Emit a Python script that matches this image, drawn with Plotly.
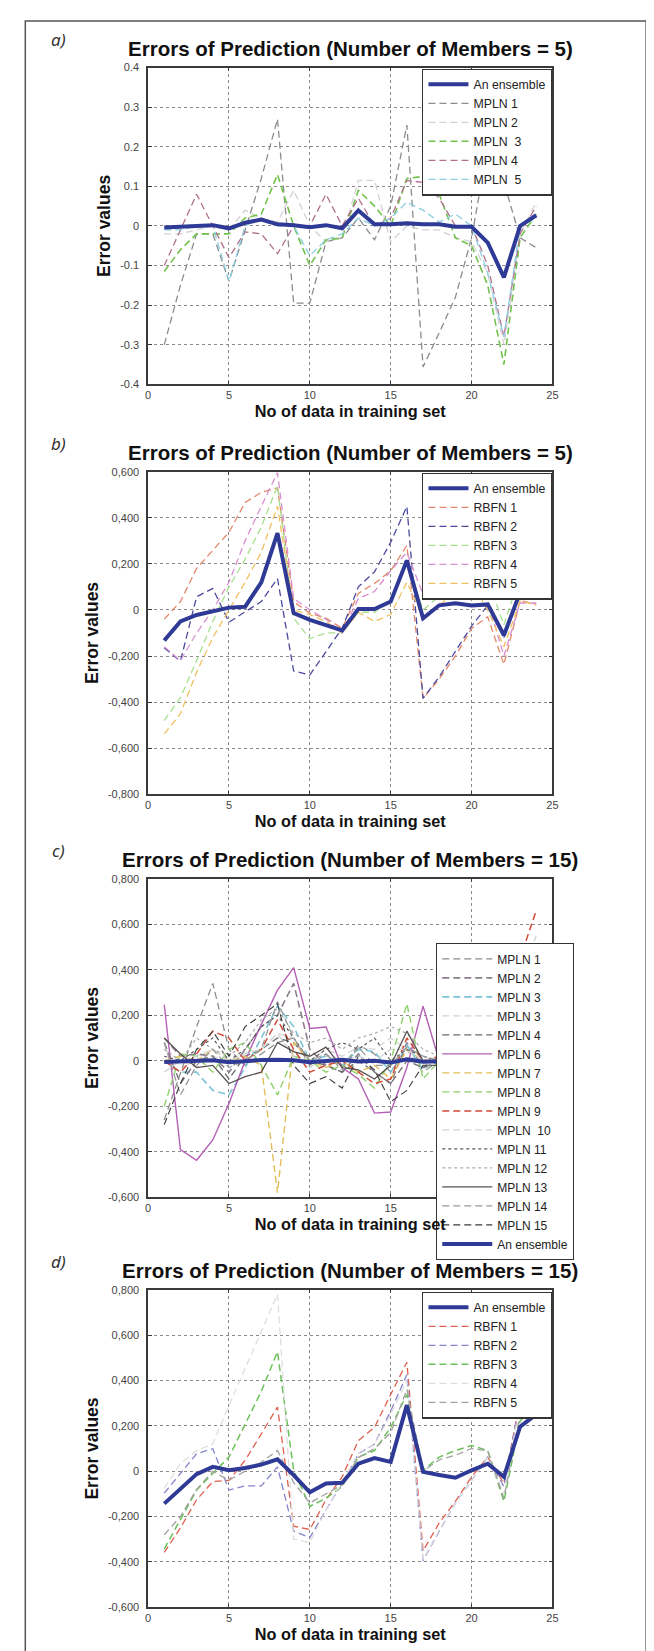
import plotly.graph_objects as go

# ---------------- data ----------------
x_idx = list(range(1, 25))

# panel a : MPLN, 5 members
a_ens = [-0.004, -0.001, 0.0, 0.002, -0.006, 0.008, 0.016, 0.004, 0.002, -0.003, 0.002, -0.006,
         0.039, 0.004, 0.004, 0.007, 0.004, 0.004, -0.002, -0.002, -0.042, -0.13, 0.0, 0.027]
a_m1 = [-0.30, -0.15, -0.02, -0.02, -0.14, -0.01, 0.12, 0.27, -0.195, -0.195, -0.04, -0.03,
        0.02, -0.035, 0.05, 0.255, -0.356, -0.27, -0.18, -0.03, 0.20, 0.11, -0.03, -0.055]
a_m2 = [-0.02, -0.02, -0.01, 0.00, -0.01, 0.04, 0.02, 0.01, 0.09, 0.00, -0.04, -0.03,
        0.115, 0.115, -0.04, 0.00, -0.01, -0.01, -0.03, -0.04, -0.12, -0.30, -0.02, 0.06]
a_m3 = [-0.115, -0.06, -0.02, -0.02, -0.02, 0.02, 0.03, 0.13, 0.00, -0.10, -0.035, -0.03,
        0.09, 0.05, 0.00, 0.12, 0.125, 0.08, -0.03, -0.05, -0.15, -0.35, -0.03, 0.03]
a_m4 = [-0.10, -0.01, 0.08, 0.00, -0.08, -0.015, -0.02, -0.07, 0.00, 0.00, 0.08, 0.00,
        0.07, 0.00, 0.02, 0.115, 0.11, 0.07, 0.00, 0.00, -0.10, -0.28, -0.02, 0.05]
a_m5 = [-0.01, -0.01, 0.00, 0.00, -0.14, 0.00, 0.02, 0.00, 0.00, -0.075, -0.035, -0.02,
        0.02, 0.00, 0.02, 0.06, 0.04, 0.01, 0.03, 0.00, -0.12, -0.28, 0.00, 0.02]

# panel b : RBFN, 5 members
b_ens = [-0.133, -0.05, -0.022, -0.005, 0.01, 0.014, 0.12, 0.333, -0.014, -0.043, -0.065, -0.089,
         0.004, 0.004, 0.036, 0.215, -0.036, 0.02, 0.029, 0.019, 0.024, -0.11, 0.076, 0.056]
b_r1 = [-0.04, 0.036, 0.18, 0.26, 0.337, 0.466, 0.51, 0.53, 0.036, -0.014, -0.036, -0.08,
        0.072, 0.115, 0.17, 0.28, -0.384, -0.30, -0.20, -0.08, -0.03, -0.237, 0.04, 0.025]
b_r2 = [-0.165, -0.222, 0.057, 0.093, -0.053, -0.007, 0.036, 0.136, -0.265, -0.282, -0.18, -0.08,
        0.10, 0.165, 0.294, 0.449, -0.384, -0.29, -0.18, -0.07, 0.02, -0.12, 0.10, 0.05]
b_r3 = [-0.48, -0.38, -0.22, -0.05, 0.10, 0.22, 0.36, 0.538, -0.036, -0.125, -0.10, -0.10,
        -0.01, -0.01, 0.05, 0.20, 0.00, 0.06, 0.10, 0.10, 0.13, -0.065, 0.15, 0.05]
b_r4 = [-0.16, -0.22, -0.10, 0.00, 0.12, 0.30, 0.45, 0.595, 0.05, 0.00, -0.04, -0.10,
        0.05, 0.08, 0.17, 0.25, 0.067, 0.13, 0.11, 0.09, 0.04, -0.20, 0.03, 0.03]
b_r5 = [-0.538, -0.45, -0.27, -0.12, 0.00, 0.12, 0.25, 0.45, 0.00, -0.02, -0.05, -0.10,
        -0.01, -0.05, -0.02, 0.12, -0.03, 0.02, 0.08, 0.12, 0.00, -0.16, 0.04, 0.02]

# panel c : MPLN, 15 members
c_m1 = [-0.26, -0.05, 0.15, 0.34, 0.05, -0.02, 0.03, 0.08, 0.10, -0.02, 0.03, -0.03,
        0.07, 0.03, -0.05, 0.05, -0.05, 0.00, 0.02, 0.00, 0.02, 0.00, 0.05, 0.08]
c_m2 = [0.10, 0.02, 0.03, 0.02, -0.05, 0.05, 0.15, 0.20, 0.34, 0.05, -0.02, -0.05,
        0.03, -0.05, -0.10, 0.08, -0.03, 0.02, 0.00, 0.03, 0.00, -0.02, 0.05, 0.10]
c_m3 = [0.00, -0.05, -0.05, -0.13, -0.15, -0.03, 0.10, 0.24, 0.15, 0.00, 0.02, -0.02,
        0.05, 0.04, -0.05, 0.07, -0.04, 0.00, 0.02, 0.00, 0.03, 0.00, 0.10, 0.20]
c_m3b = [0.05, 0.00, -0.03, 0.02, 0.00, 0.03, 0.05, 0.12, 0.10, 0.00, 0.05, 0.02,
         0.06, 0.05, 0.10, 0.05, -0.05, 0.02, 0.00, 0.02, 0.03, 0.00, 0.05, 0.10]
c_m4 = [0.08, -0.10, 0.00, 0.02, -0.08, 0.02, 0.05, 0.10, 0.08, 0.00, -0.02, -0.05,
        0.00, -0.05, -0.10, 0.00, -0.03, 0.00, -0.02, 0.00, 0.02, -0.02, 0.03, 0.05]
c_m6 = [0.246, -0.39, -0.437, -0.348, -0.188, 0.00, 0.16, 0.31, 0.409, 0.142, 0.148, -0.03,
        -0.08, -0.23, -0.225, -0.03, 0.24, 0.00, 0.02, 0.00, 0.02, -0.02, 0.05, 0.10]
c_m7 = [0.00, 0.02, 0.00, 0.05, 0.00, 0.02, -0.02, -0.58, 0.08, 0.00, -0.03, 0.00,
        -0.05, -0.02, -0.08, 0.05, 0.00, 0.00, 0.02, 0.00, 0.00, -0.02, 0.03, 0.05]
c_m8 = [-0.20, 0.03, 0.02, -0.05, 0.05, 0.08, -0.02, -0.15, 0.02, 0.00, -0.05, -0.02,
        -0.06, -0.12, 0.00, 0.25, -0.08, 0.00, 0.03, 0.00, 0.05, 0.00, 0.20, 0.49]
c_m9 = [0.00, -0.05, 0.03, 0.13, 0.10, 0.00, 0.05, 0.18, 0.05, -0.05, -0.02, 0.00,
        -0.05, -0.10, -0.08, 0.10, 0.00, 0.02, 0.05, 0.03, 0.05, 0.10, 0.45, 0.66]
c_m10 = [-0.05, 0.00, 0.02, 0.05, 0.00, 0.03, 0.05, 0.12, 0.02, -0.03, 0.02, 0.00,
         0.02, 0.00, 0.05, 0.05, 0.00, 0.02, 0.03, 0.02, 0.05, 0.08, 0.35, 0.55]
c_m11 = [0.02, 0.00, 0.05, 0.10, 0.00, 0.05, 0.15, 0.20, 0.10, 0.00, 0.05, 0.08,
         0.05, 0.10, 0.00, 0.05, 0.02, 0.00, 0.02, 0.00, 0.02, 0.00, 0.03, 0.05]
c_m12 = [0.05, 0.00, 0.10, 0.05, 0.02, 0.08, 0.18, 0.23, 0.12, 0.08, 0.10, 0.05,
         0.10, 0.12, 0.15, 0.12, 0.05, 0.02, 0.03, 0.02, 0.03, 0.02, 0.05, 0.08]
c_m13 = [0.10, 0.03, -0.03, -0.02, -0.10, -0.07, -0.05, 0.08, 0.04, 0.02, 0.06, -0.03,
         -0.04, -0.08, -0.02, 0.13, 0.00, 0.00, 0.02, 0.00, 0.02, 0.00, 0.03, 0.05]
c_m14 = [0.08, -0.15, -0.02, 0.05, -0.03, 0.00, 0.05, 0.26, 0.10, 0.00, 0.03, -0.04,
         0.06, -0.02, -0.02, 0.06, 0.02, 0.00, 0.02, 0.00, 0.02, 0.00, 0.03, 0.05]
c_m15 = [-0.28, -0.10, 0.05, 0.13, 0.02, 0.15, 0.20, 0.25, -0.02, -0.10, -0.07, -0.12,
         0.02, -0.04, -0.18, -0.13, -0.02, -0.02, 0.00, 0.00, 0.02, 0.00, 0.03, 0.05]
c_ens = [-0.005, -0.003, 0.0, 0.002, -0.006, 0.0, 0.003, 0.004, 0.002, -0.006, -0.002, 0.004,
         -0.003, 0.0, -0.008, 0.006, -0.004, 0.0, 0.0, 0.0, 0.0, 0.0, 0.0, 0.0]

# panel d : RBFN, 15 members
d_ens = [-0.143, -0.075, -0.013, 0.019, 0.004, 0.014, 0.029, 0.052, -0.017, -0.093, -0.054, -0.051,
         0.033, 0.058, 0.041, 0.291, -0.003, -0.017, -0.029, 0.004, 0.033, -0.025, 0.196, 0.25]
d_r1 = [-0.358, -0.25, -0.126, -0.046, -0.04, 0.048, 0.164, 0.283, -0.242, -0.257, -0.126, -0.025,
        0.135, 0.193, 0.338, 0.48, -0.351, -0.228, -0.133, -0.025, 0.062, -0.054, 0.31, 0.29]
d_r2 = [-0.097, -0.01, 0.077, 0.099, -0.083, -0.065, -0.065, 0.019, -0.264, -0.293, -0.17, -0.054,
        0.077, 0.12, 0.265, 0.425, -0.394, -0.264, -0.14, -0.04, 0.062, -0.068, 0.31, 0.28]
d_r3 = [-0.343, -0.213, -0.083, -0.01, 0.062, 0.207, 0.352, 0.526, 0.004, -0.155, -0.119, -0.068,
        0.062, 0.091, 0.193, 0.338, 0.004, 0.062, 0.091, 0.113, 0.091, -0.133, 0.222, 0.287]
d_r4 = [-0.075, 0.033, 0.091, 0.12, 0.29, 0.45, 0.615, 0.78, -0.30, -0.314, -0.17, -0.05,
        0.08, 0.12, 0.25, 0.40, -0.39, -0.26, -0.14, -0.04, 0.06, -0.10, 0.30, 0.30]
d_r5 = [-0.28, -0.20, -0.08, 0.00, -0.04, 0.00, 0.04, 0.091, -0.05, -0.14, -0.10, -0.06,
        0.06, 0.10, 0.17, 0.36, 0.00, 0.05, 0.07, 0.10, 0.09, -0.12, 0.25, 0.30]

x_ticks = [0, 5, 10, 15, 20, 25]
a_yticks = [-0.4, -0.3, -0.2, -0.1, 0, 0.1, 0.2, 0.3, 0.4]
a_ylabels = ["-0.4", "-0.3", "-0.2", "-0.1", "0", "0.1", "0.2", "0.3", "0.4"]
b_yticks = [-0.8, -0.6, -0.4, -0.2, 0, 0.2, 0.4, 0.6]
b_ylabels = ["-0,800", "-0,600", "-0,400", "-0,200", "0", "0,200", "0,400", "0,600"]
cd_yticks = [-0.6, -0.4, -0.2, 0, 0.2, 0.4, 0.6, 0.8]
cd_ylabels = ["-0,600", "-0,400", "-0,200", "0", "0,200", "0,400", "0,600", "0,800"]

title5 = "Errors of Prediction (Number of Members = 5)"
title15 = "Errors of Prediction (Number of Members = 15)"

# ---------------- layout constants (pixels) ----------------
W, H = 654, 1651
PX0, PX1 = 139, 549
panels = [  # (top, bottom) of plot area in px
    (54, 373), (461, 786), (871, 1192), (1285, 1605)
]

def ydom(top, bot):
    return [(H - bot) / H, (H - top) / H]

FONT = "Liberation Sans, Arial, sans-serif"
ENS_COLOR = "#2e3a96"
DASH = "7px,4px"

fig = go.Figure()

def add(y, name, color, k, rank, dash=DASH, width=1.3):
    axis = "" if k == 1 else str(k)
    fig.add_trace(go.Scatter(
        x=x_idx, y=y, mode="lines", name=name,
        line=dict(color=color, width=width, dash=dash),
        xaxis="x" + axis, yaxis="y" + axis,
        legend="legend" + axis, legendrank=rank,
    ))

# panel a
add(a_m1, "MPLN 1", "#8c8c8c", 1, 2)
add(a_m2, "MPLN 2", "#d2d2d2", 1, 3)
add(a_m3, "MPLN  3", "#72c24e", 1, 4, width=1.6)
add(a_m4, "MPLN 4", "#b0708e", 1, 5)
add(a_m5, "MPLN  5", "#8ccfe0", 1, 6)
add(a_ens, "An ensemble", ENS_COLOR, 1, 1, dash="solid", width=4)

# panel b
add(b_r1, "RBFN 1", "#e3886a", 2, 2)
add(b_r2, "RBFN 2", "#4b4a9e", 2, 3)
add(b_r3, "RBFN 3", "#a6df8e", 2, 4)
add(b_r4, "RBFN 4", "#d88fd0", 2, 5)
add(b_r5, "RBFN 5", "#f0c062", 2, 6)
add(b_ens, "An ensemble", ENS_COLOR, 2, 1, dash="solid", width=4)

# panel c
c_series = [
    (c_m1, "MPLN 1", "#8c8c8c", DASH, 1.3),
    (c_m2, "MPLN 2", "#8a7e8e", DASH, 1.6),
    (c_m3, "MPLN 3", "#7cc3d6", DASH, 1.6),
    (c_m3b, "MPLN 3", "#d4d4d4", DASH, 1.3),
    (c_m4, "MPLN 4", "#6b6b6b", DASH, 1.3),
    (c_m6, "MPLN 6", "#b35fb5", "solid", 1.4),
    (c_m7, "MPLN 7", "#e2be5a", DASH, 1.4),
    (c_m8, "MPLN 8", "#8ed06c", DASH, 1.4),
    (c_m9, "MPLN 9", "#d24a38", DASH, 1.5),
    (c_m10, "MPLN  10", "#cfd6d8", DASH, 1.3),
    (c_m11, "MPLN 11", "#5a5a5a", "dot", 1.2),
    (c_m12, "MPLN 12", "#ababab", "dot", 1.2),
    (c_m13, "MPLN 13", "#5a5050", "solid", 1.3),
    (c_m14, "MPLN 14", "#9a9a9a", DASH, 1.3),
    (c_m15, "MPLN 15", "#3a3a3a", DASH, 1.1),
]
for i, (vals, nm, col, ds, wd) in enumerate(c_series):
    add(vals, nm, col, 3, i + 1, dash=ds, width=wd)
add(c_ens, "An ensemble", ENS_COLOR, 3, 16, dash="solid", width=4)

# panel d
add(d_r1, "RBFN 1", "#e0604e", 4, 2)
add(d_r2, "RBFN 2", "#8585cc", 4, 3)
add(d_r3, "RBFN 3", "#6cc05a", 4, 4, width=1.5)
add(d_r4, "RBFN 4", "#dedede", 4, 5)
add(d_r5, "RBFN 5", "#a2a2a2", 4, 6)
add(d_ens, "An ensemble", ENS_COLOR, 4, 1, dash="solid", width=4)

layout = dict(
    width=W, height=H, margin=dict(l=0, r=0, t=0, b=0),
    paper_bgcolor="white", plot_bgcolor="white",
    font=dict(family=FONT, color="#333333", size=11),
)

yinfo = [(a_yticks, a_ylabels, [-0.4, 0.4]),
         (b_yticks, b_ylabels, [-0.8, 0.6]),
         (cd_yticks, cd_ylabels, [-0.6, 0.8]),
         (cd_yticks, cd_ylabels, [-0.6, 0.8])]

axis_common = dict(
    showline=True, linecolor="#3a3a3a", linewidth=1.5, mirror="ticks",
    ticks="inside", ticklen=4, tickcolor="#3a3a3a", tickwidth=1,
    showgrid=True, gridcolor="#8a8a8a", gridwidth=1, griddash="dot",
    zeroline=False, tickfont=dict(size=11, color="#444444"),
)

legend_pos = [(417, 55), (417, 462), (431, 936), (417, 1287)]
legend_itemw = [40, 40, 50, 40]
legend_font = [12.3, 12.3, 12, 12.3]

annotations = []
for k, ((top, bot), (yt, yl, yr), (lx, ly)) in enumerate(zip(panels, yinfo, legend_pos), start=1):
    sfx = "" if k == 1 else str(k)
    layout["xaxis" + sfx] = dict(
        axis_common, domain=[PX0 / W, PX1 / W], range=[0, 25],
        tickvals=x_ticks, ticktext=[str(v) for v in x_ticks],
        anchor="y" + sfx,
        title=dict(text="<b>No of data in training set</b>", font=dict(size=16.3, color="#111111"),
                   standoff=5),
    )
    layout["yaxis" + sfx] = dict(
        axis_common, domain=ydom(top, bot), range=yr,
        tickvals=yt, ticktext=yl, anchor="x" + sfx, ticklabelstandoff=5,
        title=dict(text="<b>Error values</b>", font=dict(size=17.5, color="#111111"), standoff=5),
    )
    layout["legend" + sfx] = dict(
        x=lx / W, y=1 - ly / H, xanchor="left", yanchor="top",
        bgcolor="white", bordercolor="#333333", borderwidth=1.2,
        font=dict(size=legend_font[k - 1], color="#222222", family=FONT),
        itemwidth=legend_itemw[k - 1], tracegroupgap=0,
    )
    ttl = title5 if k <= 2 else title15
    annotations.append(dict(
        text="<b>" + ttl + "</b>", xref="paper", yref="paper",
        x=(PX0 + PX1) / 2 / W, y=1 - (top - 19) / H, xanchor="center", yanchor="middle",
        showarrow=False, font=dict(size=20.5, color="#111111", family=FONT),
    ))
    annotations.append(dict(
        text="<i>" + "abcd"[k - 1] + ")</i>", xref="paper", yref="paper",
        x=48 / W, y=1 - (top - 28) / H, xanchor="center", yanchor="middle",
        showarrow=False, font=dict(size=17, color="#333333", family="Noto Sans, sans-serif"),
    ))

layout["annotations"] = annotations
layout["shapes"] = [dict(type="rect", xref="paper", yref="paper",
                         x0=14.5 / W, x1=644 / W, y0=-0.01, y1=1 - 7 / H,
                         line=dict(color="#555555", width=1.5), fillcolor="rgba(0,0,0,0)",
                         layer="below")]
fig.update_layout(**layout)
fig.write_html("out.html")
